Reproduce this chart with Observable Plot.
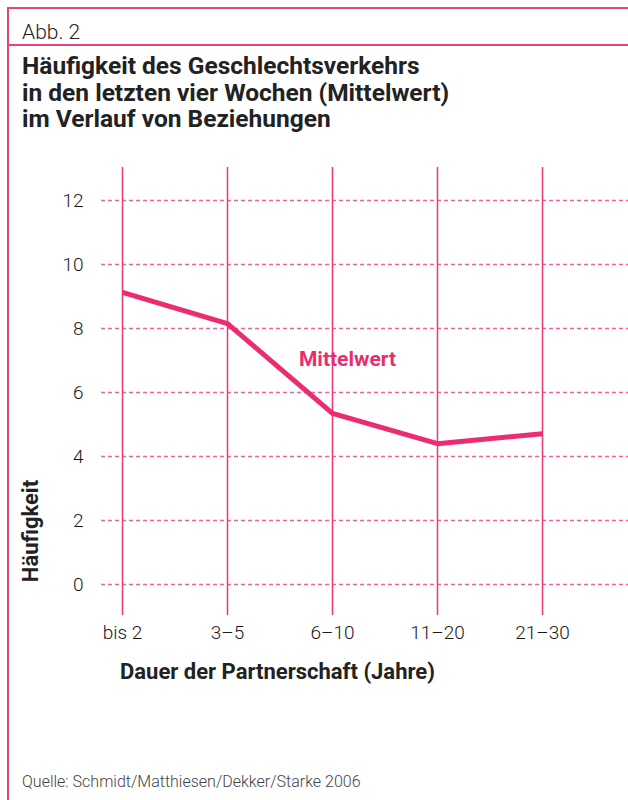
<!DOCTYPE html>
<html>
<head>
<meta charset="utf-8">
<script src="https://cdn.jsdelivr.net/npm/d3@7"></script>
<script src="https://cdn.jsdelivr.net/npm/@observablehq/plot@0.6"></script>
<style>
  html, body { margin: 0; padding: 0; background: #fff; }
  #page { position: relative; width: 628px; height: 800px; overflow: hidden; background: #fff; }
  .rule-h { position: absolute; left: 7px; right: 0; height: 0; border-top: 2px solid #e8417c; }
  .rule-v { position: absolute; left: 7px; top: 7px; bottom: 0; width: 0; border-left: 2px solid #e8417c; }
  .abb { position: absolute; left: 22px; top: 20px; font-family: Roboto, sans-serif; font-weight: 300; font-size: 21px; color: #222; }
  .title { position: absolute; left: 22px; top: 53px; font-family: "Liberation Sans Narrow", "Roboto", sans-serif; font-weight: bold; font-size: 24.5px; line-height: 26.5px; color: #222; }
  .xlabel { position: absolute; left: 120px; top: 659px; font-family: "Liberation Sans Narrow", "Roboto", sans-serif; font-weight: bold; font-size: 22px; color: #222; }
  .ylabel { position: absolute; left: 30px; top: 531px; transform: translate(-50%, -50%) rotate(-90deg); white-space: nowrap; font-family: "Liberation Sans Narrow", "Roboto", sans-serif; font-weight: bold; font-size: 22px; color: #222; }
  .source { position: absolute; left: 22px; top: 772px; font-family: Roboto, sans-serif; font-weight: 300; font-size: 16px; color: #444; }
  #chart { position: absolute; left: 0; top: 150px; }
</style>
</head>
<body>
<div id="page">
  <div class="rule-h" style="top:7px"></div>
  <div class="rule-h" style="top:44px"></div>
  <div class="rule-v"></div>
  <div class="abb">Abb. 2</div>
  <div class="title">Häufigkeit des Geschlechtsverkehrs<br>in den letzten vier Wochen (Mittelwert)<br>im Verlauf von Beziehungen</div>
  <div id="chart"></div>
  <div class="ylabel">Häufigkeit</div>
  <div class="xlabel">Dauer der Partnerschaft (Jahre)</div>
  <div class="source">Quelle: Schmidt/Matthiesen/Dekker/Starke 2006</div>
</div>
<script>
const categories = ["bis 2", "3–5", "6–10", "11–20", "21–30"];
const meanValues = [9.13, 8.15, 5.35, 4.4, 4.71];
const yTicks = [0, 2, 4, 6, 8, 10, 12];
const seriesLabel = "Mittelwert";

const data = categories.map((c, i) => ({cat: c, value: meanValues[i]}));
const pink = "#ec2c70";

const chart = Plot.plot({
  width: 628,
  height: 550,
  marginLeft: 101,
  marginRight: 0,
  marginTop: 17,
  marginBottom: 85,
  style: {fontFamily: "Roboto, sans-serif", fontWeight: 300, background: "transparent"},
  x: {type: "point", domain: categories, range: [120, 543], padding: 0},
  y: {domain: [0, 12], range: [434, 50]},
  marks: [
    Plot.gridY({ticks: yTicks, stroke: "#f0669a", strokeOpacity: 1, strokeWidth: 1.3, strokeDasharray: "4,3"}),
    Plot.gridX({stroke: "#ea3a76", strokeOpacity: 1, strokeWidth: 1.5}),
    Plot.axisX({tickSize: 0, tickPadding: 10, fontSize: 19, fill: "#1a1a1a", label: null}),
    Plot.axisY({ticks: yTicks, tickSize: 0, tickPadding: 18, fontSize: 19, fill: "#1a1a1a", label: null}),
    Plot.line(data, {x: "cat", y: "value", stroke: pink, strokeWidth: 5, strokeLinejoin: "miter", strokeLinecap: "butt"}),
    Plot.text([seriesLabel], {x: () => "6–10", y: () => 7, dx: 15, dy: -1, text: d => d, fill: pink, fontSize: 21, fontWeight: "bold"})
  ]
});
document.getElementById("chart").appendChild(chart);
</script>
</body>
</html>
